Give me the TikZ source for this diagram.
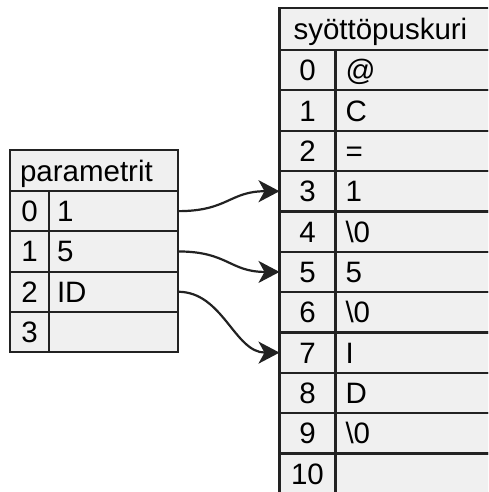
\documentclass[tikz,border=0pt]{standalone}
\usepackage{fontspec}
\setmainfont{Liberation Sans}
\usetikzlibrary{arrows.meta}
\definecolor{linec}{HTML}{222222}
\definecolor{cellc}{HTML}{F0F0F0}
\begin{document}
\begin{tikzpicture}[x=1pt,y=-1pt,
  cell/.style={draw=linec, fill=cellc, line width=2.2pt, inner sep=0pt, outer sep=0pt,
    text height=21pt, text depth=0pt, font=\fontsize{29.5}{33}\selectfont, anchor=north west},
  lidx/.style={cell, minimum width=39pt, minimum height=40.3pt, text width=39pt, align=center},
  lval/.style={cell, minimum width=129pt, minimum height=40.3pt, text width=113pt, align=left},
  ridx/.style={cell, minimum width=56pt, minimum height=40.35pt, text width=56pt, align=center},
  rval/.style={cell, minimum width=170pt, minimum height=40.35pt, text width=150pt, align=left},
  conn/.style={draw=linec, line width=2.2pt, -{Stealth[length=21pt,width=22pt,inset=6pt]}}]
\useasboundingbox (0,0) rectangle (488,492);
\clip (0,0) rectangle (488,492);
% left table
\node[cell, minimum width=168pt, minimum height=41pt, text width=148pt, align=left] (ptitle) at (10,150) {parametrit};
\foreach \i/\v in {0/1,1/5,2/ID,3/{}} {
  \node[lidx] (pi\i) at (10,{191+40.3*\i}) {\i};
  \node[lval] (pv\i) at (49,{191+40.3*\i}) {\v};
}
% right table
\node[cell, minimum width=226pt, minimum height=42pt, text width=198pt, align=left] (rtitle) at (279.5,8) {syöttöpuskuri};
\foreach \i/\v in {0/@,1/C,2/=,3/1,4/\textbackslash0,5/5,6/\textbackslash0,7/I,8/D,9/\textbackslash0,10/{}} {
  \node[ridx] (ri\i) at (279.5,{50+40.35*\i}) {\i};
  \node[rval] (rv\i) at (335.5,{50+40.35*\i}) {\v};
}
% connectors
\draw[conn] (pv0.east) .. controls +(50,0) and +(-50,0) .. (ri3.west);
\draw[conn] (pv1.east) .. controls +(50,0) and +(-50,0) .. (ri5.west);
\draw[conn] (pv2.east) .. controls +(45,0) and +(-45,0) .. (ri7.west);
\end{tikzpicture}
\end{document}
